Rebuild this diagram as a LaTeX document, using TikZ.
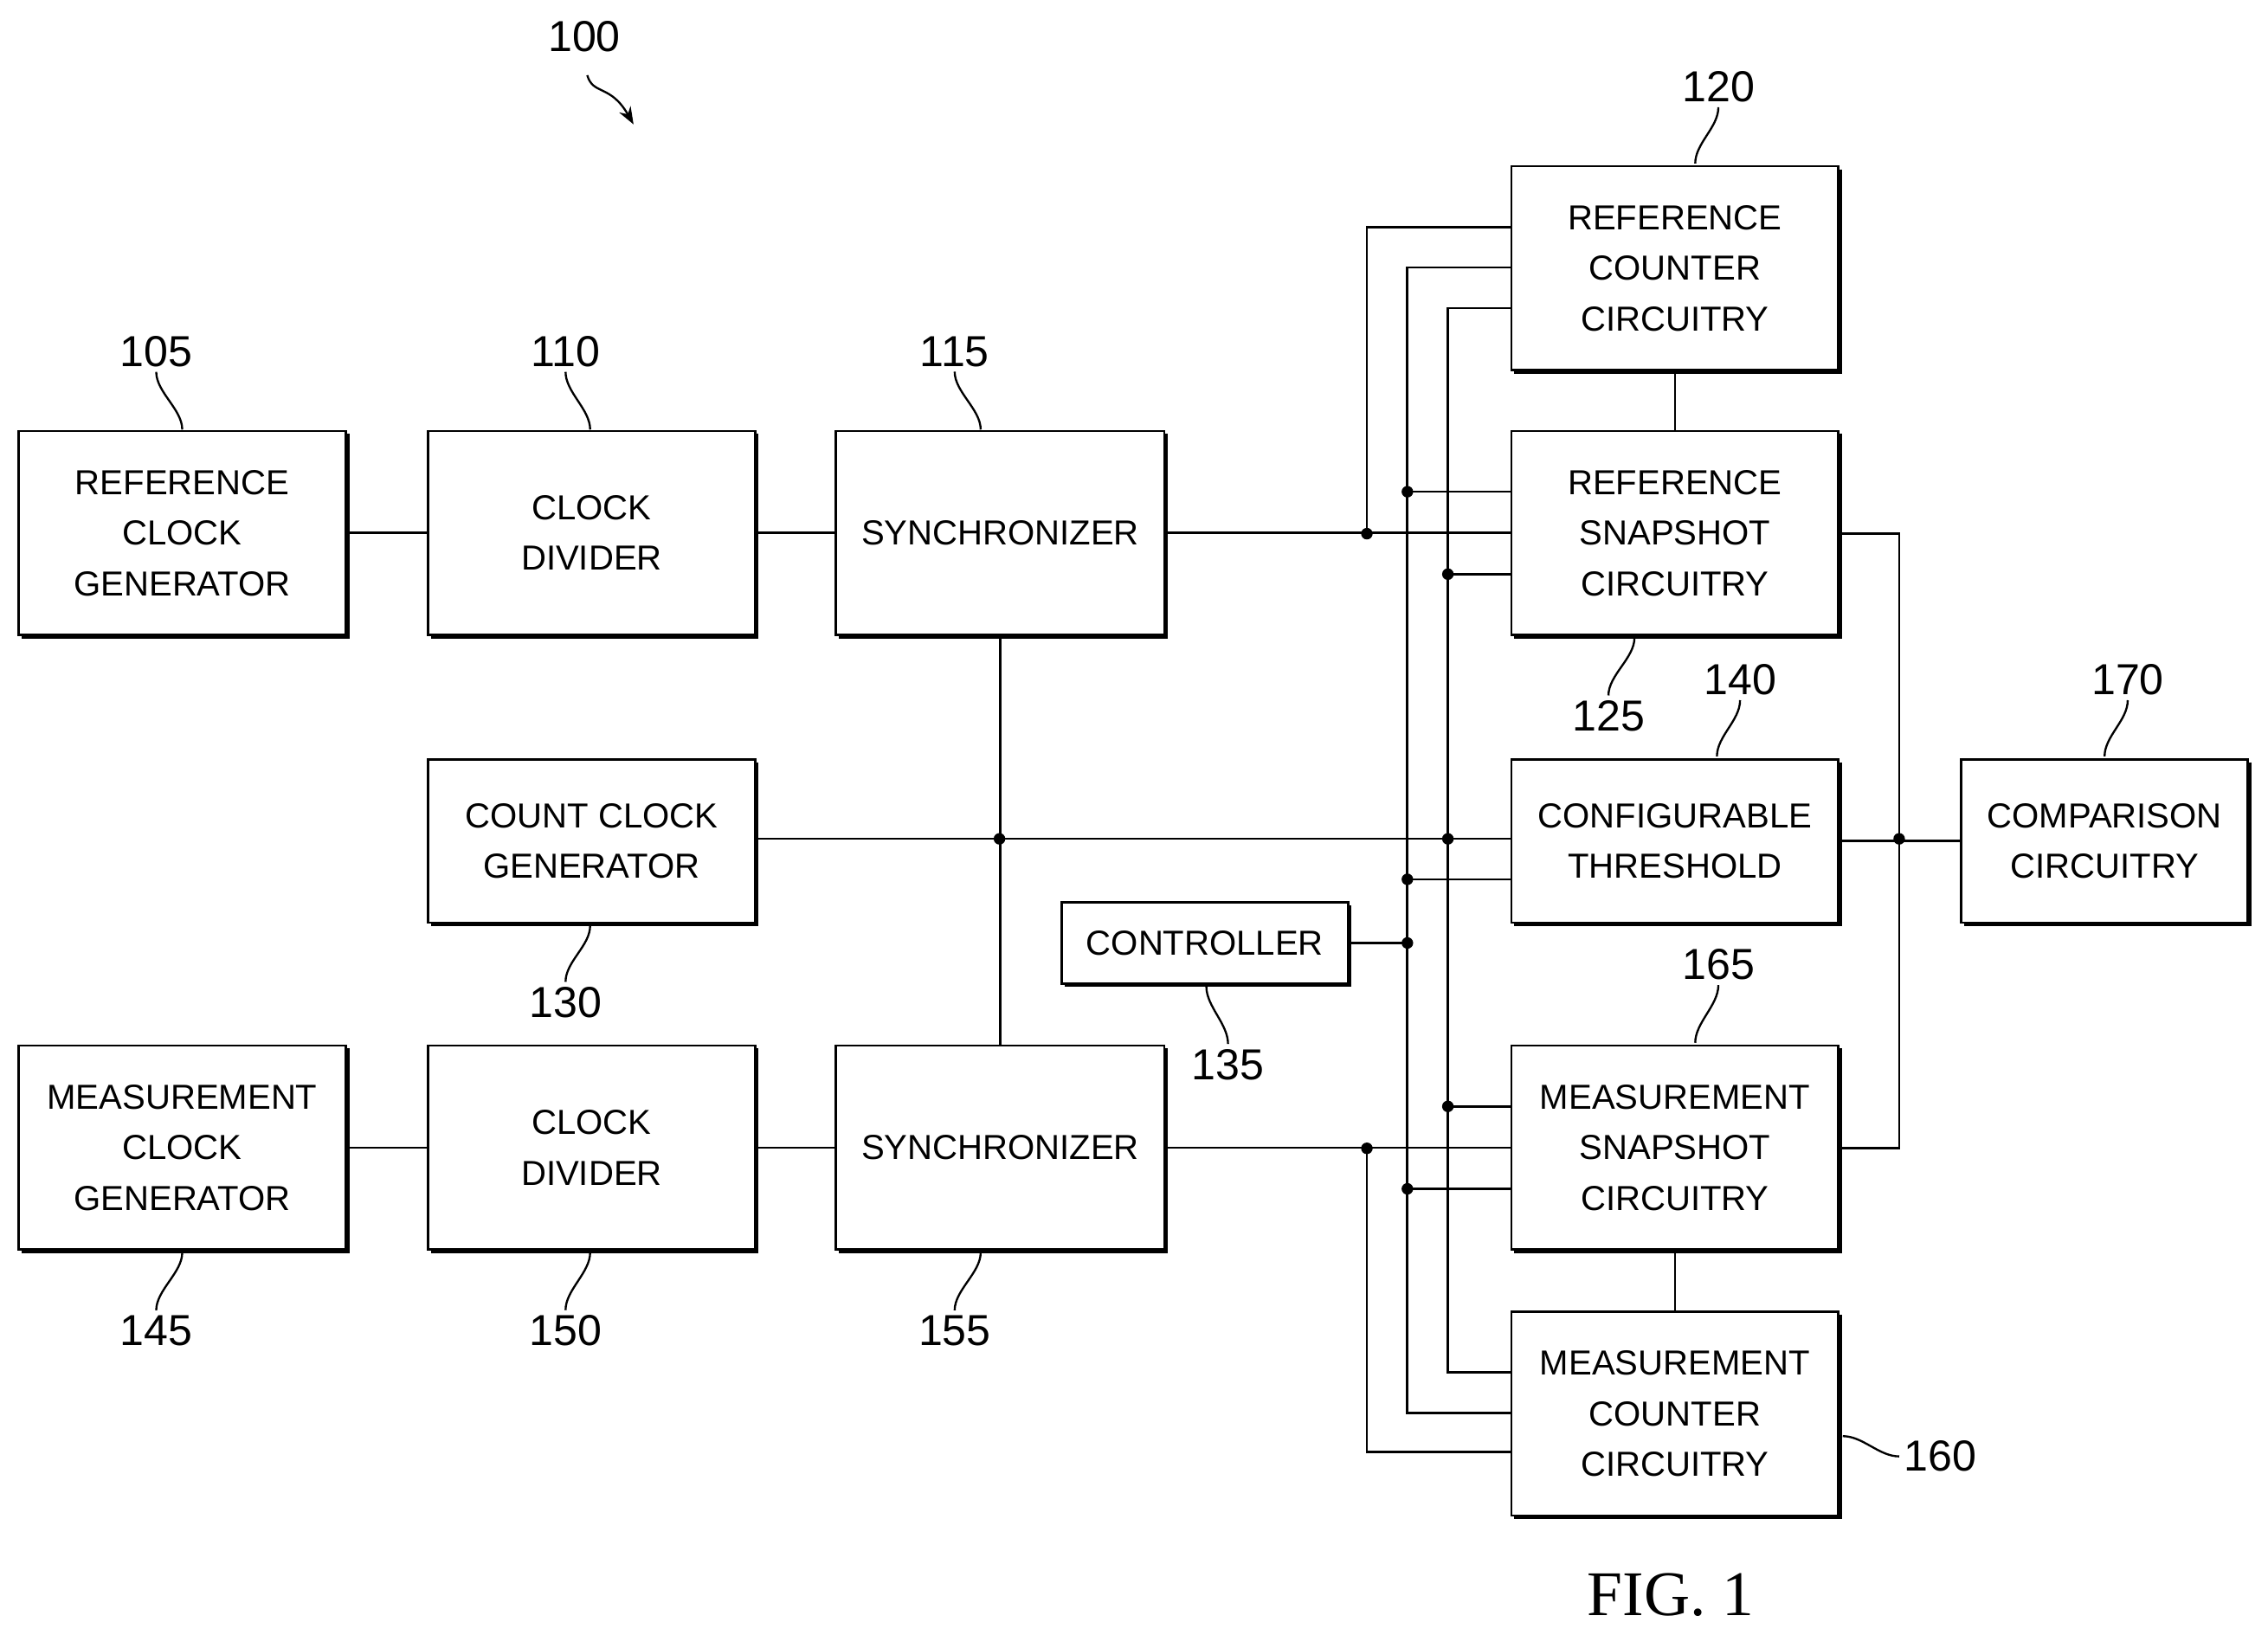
\documentclass[tikz,border=0pt]{standalone}
\usepackage{fontspec}
\setmainfont{Liberation Sans}
\newfontfamily\figfont{Liberation Serif}
\usetikzlibrary{arrows.meta}
\tikzset{
 box/.style={draw,line width=1.6pt,align=center,font=\fontsize{24}{35}\selectfont,inner sep=0pt},
 ln/.style={line width=1.6pt},
 dot/.style={circle,fill,inner sep=0pt,minimum size=8pt},
 num/.style={font=\fontsize{30}{30}\selectfont},
 lead/.style={line width=1.4pt}
}
\newcommand\bx[6]{%
 \node[box,minimum width=#4pt-#2pt,minimum height=#5pt-#3pt] (#1) at ({(#2+#4)/2},{(#3+#5)/2}) {#6};
 \draw[line width=3pt] (#4+1,#3+2) -- (#4+1,#5+1) -- (#2+2,#5+1);}
\begin{document}
\begin{tikzpicture}[x=1pt,y=-1pt]
\useasboundingbox (0,0) rectangle (1568,1130);
\bx{b105}{13}{298}{239}{439}{REFERENCE\\CLOCK\\GENERATOR}
\bx{b110}{296}{298}{522}{439}{CLOCK\\DIVIDER}
\bx{b115}{578}{298}{805}{439}{SYNCHRONIZER}
\bx{b120}{1045}{115}{1271}{256}{REFERENCE\\COUNTER\\CIRCUITRY}
\bx{b125}{1045}{298}{1271}{439}{REFERENCE\\SNAPSHOT\\CIRCUITRY}
\bx{b130}{296}{525}{522}{638}{COUNT CLOCK\\GENERATOR}
\bx{b140}{1045}{525}{1271}{638}{CONFIGURABLE\\THRESHOLD}
\bx{b170}{1356}{525}{1554}{638}{COMPARISON\\CIRCUITRY}
\bx{b135}{734}{624}{932}{680}{CONTROLLER}
\bx{b145}{13}{723}{239}{864}{MEASUREMENT\\CLOCK\\GENERATOR}
\bx{b150}{296}{723}{522}{864}{CLOCK\\DIVIDER}
\bx{b155}{578}{723}{805}{864}{SYNCHRONIZER}
\bx{b165}{1045}{723}{1271}{864}{MEASUREMENT\\SNAPSHOT\\CIRCUITRY}
\bx{b160}{1045}{907}{1271}{1048}{MEASUREMENT\\COUNTER\\CIRCUITRY}
% main chains
\draw[ln] (b105) -- (b110); \draw[ln] (b110) -- (b115);
\draw[ln] (b145) -- (b150); \draw[ln] (b150) -- (b155);
\draw[ln] (b115.east) -- (b125.west);
\draw[ln] (b155.east) -- (b165.west);
\draw[ln] (b115.south) -- (b155.north);
\draw[ln] (b130.east |- 0,580) -- (1045,580);
\draw[ln] (b120.south) -- (b125.north);
\draw[ln] (b165.south) -- (b160.north);
% bus x945
\draw[ln] (1045,157) -- (945,157) -- (945,369);
\draw[ln] (945,794) -- (945,1004) -- (1045,1004);
% bus x973
\draw[ln] (1045,185) -- (973,185) -- (973,977) -- (1045,977);
\draw[ln] (973,340) -- (1045,340);
\draw[ln] (973,608) -- (1045,608);
\draw[ln] (b135.east) -- (973,652);
\draw[ln] (973,822) -- (1045,822);
% bus x1001
\draw[ln] (1045,213) -- (1001,213) -- (1001,949) -- (1045,949);
\draw[ln] (1001,397) -- (1045,397);
\draw[ln] (1001,765) -- (1045,765);
% right side
\draw[ln] (1271,369) -- (1313,369) -- (1313,794) -- (1271,794);
\draw[ln] (b140.east) -- (b170.west);
% dots
\foreach \p in {(945,369),(945,794),(973,340),(973,608),(973,652),(973,822),(1001,397),(1001,580),(1001,765),(691,580),(1313,580)}
 \node[dot] at \p {};
% labels
\node[num] (n100) at (404,25) {100};
\coordinate (a100) at (438,86);
\draw[lead,-{Stealth[length=12pt,width=9pt]}] (406,52) .. controls (410,66) and (422,58) .. (a100);
\newcommand\lbl[5]{\node[num] (n#1) at (#2,#3) {#1}; \coordinate (c#1) at (#4,#5);}
\lbl{105}{108}{243}{126}{297}
\lbl{110}{391}{243}{408}{297}
\lbl{115}{660}{243}{678}{297}
\lbl{120}{1188}{60}{1172}{113}
\lbl{140}{1203}{470}{1187}{523}
\lbl{170}{1471}{470}{1455}{523}
\lbl{165}{1188}{667}{1172}{721}
\draw[lead] (n105.south) .. controls +(0,14) and +(0,-14) .. (c105);
\draw[lead] (n110.south) .. controls +(0,14) and +(0,-14) .. (c110);
\draw[lead] (n115.south) .. controls +(0,14) and +(0,-14) .. (c115);
\draw[lead] (n120.south) .. controls +(0,14) and +(0,-14) .. (c120);
\draw[lead] (n140.south) .. controls +(0,14) and +(0,-14) .. (c140);
\draw[lead] (n170.south) .. controls +(0,14) and +(0,-14) .. (c170);
\draw[lead] (n165.south) .. controls +(0,14) and +(0,-14) .. (c165);
\lbl{125}{1112}{495}{1130}{441}
\lbl{130}{391}{693}{408}{640}
\lbl{135}{849}{736}{834}{682}
\lbl{145}{108}{920}{126}{866}
\lbl{150}{391}{920}{408}{866}
\lbl{155}{660}{920}{678}{866}
\foreach \n in {125,130,135,145,150,155}
 \draw[lead] (n\n.north) .. controls +(0,-14) and +(0,14) .. (c\n);
\node[num,anchor=west] (n160) at (1313,1007) {160};
\coordinate (c160) at (1274,993);
\draw[lead] (n160.west) .. controls +(-14,0) and +(14,0) .. (c160);
\node[font=\figfont\fontsize{44}{44}\selectfont] (fig) at (1155,1103) {FIG. 1};
\end{tikzpicture}
\end{document}
